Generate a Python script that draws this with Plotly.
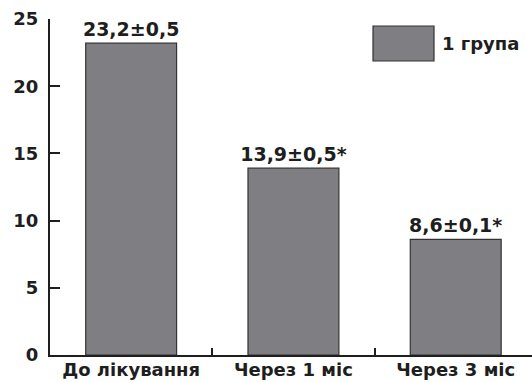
import plotly.graph_objects as go

# Data
categories = ["До лікування", "Через 1 міс", "Через 3 міс"]
values = [23.2, 13.9, 8.6]
value_labels = ["23,2±0,5", "13,9±0,5*", "8,6±0,1*"]
series_name = "1 група"
y_ticks = [0, 5, 10, 15, 20, 25]

BAR_COLOR = "#7f7f83"
EDGE_COLOR = "#333333"
TEXT_COLOR = "#1e1e1e"
FONT = "DejaVu Sans"

fig = go.Figure()
fig.add_trace(go.Bar(
    x=categories,
    y=values,
    text=value_labels,
    textposition="outside",
    constraintext="none",
    textfont=dict(family=FONT, size=19, color=TEXT_COLOR, weight="bold"),
    cliponaxis=False,
    marker=dict(color=BAR_COLOR, line=dict(color=EDGE_COLOR, width=1.2)),
    name=series_name,
    showlegend=False,
))

# Legend swatch and caption
fig.add_shape(type="rect", xref="paper", yref="paper",
              x0=(373 - 50) / 482, x1=(434 - 50) / 482,
              y0=(355 - 61) / 336, y1=(355 - 26) / 336,
              fillcolor=BAR_COLOR, line=dict(color=EDGE_COLOR, width=1.2))
fig.add_annotation(xref="paper", yref="paper",
                   x=(440 - 50) / 482, y=(355 - 44) / 336,
                   xanchor="left", yanchor="middle", showarrow=False,
                   text=series_name,
                   font=dict(family=FONT, size=18, color=TEXT_COLOR, weight="bold"))

fig.update_layout(
    width=532, height=382,
    margin=dict(l=50, r=0, t=19, b=27),
    paper_bgcolor="white", plot_bgcolor="white",
    bargap=0.44,
    font=dict(family=FONT, color=TEXT_COLOR),
)
fig.update_xaxes(
    range=[-0.5, 2.47],
    showline=True, linecolor=TEXT_COLOR, linewidth=2,
    ticks="inside", tickson="boundaries", ticklen=7, tickwidth=1.5, tickcolor=TEXT_COLOR,
    tickfont=dict(family=FONT, size=18, color=TEXT_COLOR, weight="bold"),
    ticklabelstandoff=-3,
    showgrid=False, zeroline=False,
)
fig.update_yaxes(
    range=[0, 25], tickvals=y_ticks,
    showline=True, linecolor=TEXT_COLOR, linewidth=2,
    ticks="inside", ticklen=10, tickwidth=2, tickcolor=TEXT_COLOR,
    tickfont=dict(family=FONT, size=18, color=TEXT_COLOR, weight="bold"),
    ticklabelstandoff=6,
    showgrid=False, zeroline=False,
)

fig.write_html("out.html")
